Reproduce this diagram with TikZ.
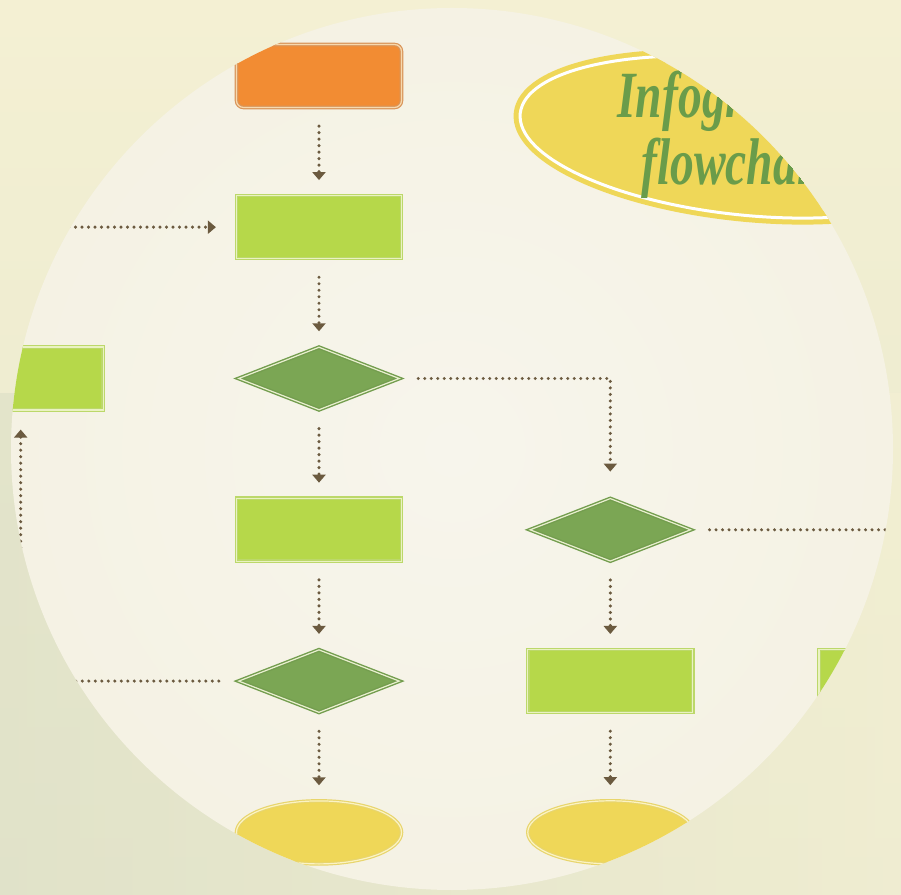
\documentclass[tikz,border=0pt]{standalone}
\usepackage{fontspec}
\usepackage{tikz}
\usetikzlibrary{arrows.meta,positioning,shapes.geometric}
\newfontfamily\titlefont{Liberation Serif}

\definecolor{bgyellow}{HTML}{F4F0D3}
\definecolor{bggreen}{HTML}{DCDFC6}
\definecolor{bgmid}{HTML}{E8E8CE}
\definecolor{discin}{HTML}{F7F5EC}
\definecolor{disc}{HTML}{F5F2E4}
\definecolor{orangefill}{HTML}{F28C33}
\definecolor{orangeedge}{HTML}{D9955A}
\definecolor{orangeline}{HTML}{F7D9AE}
\definecolor{limefill}{HTML}{B6D84A}
\definecolor{limeedge}{HTML}{BCD86A}
\definecolor{limeline}{HTML}{EAF2C2}
\definecolor{leaffill}{HTML}{7BA654}
\definecolor{leafedge}{HTML}{739D4E}
\definecolor{leafline}{HTML}{E9EFCF}
\definecolor{sunfill}{HTML}{EFD758}
\definecolor{sunedge}{HTML}{E8D56C}
\definecolor{sunline}{HTML}{FBF3C4}
\definecolor{arrowbrown}{HTML}{6B5A3F}
\definecolor{titlegreen}{HTML}{6A9C4A}

\begin{document}
\begin{tikzpicture}[
    x=1pt, y=1pt,
    node distance=87pt and 127pt,
    startbox/.style={rectangle, rounded corners=7pt, minimum width=165pt, minimum height=63pt,
      fill=orangefill, draw=orangeedge, double=orangeline, double distance=1.2pt, line width=1.2pt},
    procbox/.style={rectangle, minimum width=165pt, minimum height=63pt,
      fill=limefill, draw=limeedge, double=limeline, double distance=1.2pt, line width=1.2pt},
    decision/.style={diamond, minimum width=161pt, minimum height=63pt, inner sep=0pt,
      fill=leaffill, draw=leafedge, double=leafline, double distance=1.2pt, line width=1.4pt},
    endbox/.style={ellipse, minimum width=165pt, minimum height=63pt,
      fill=sunfill, draw=sunedge, double=sunline, double distance=1.2pt, line width=1.2pt},
    titleoval/.style={ellipse, minimum width=452pt, minimum height=156pt,
      fill=sunfill, draw=sunfill, double=white, double distance=3pt, line width=5pt},
    titletext/.style={align=center, text=titlegreen, xscale=0.72,
      font=\titlefont\fontsize{66}{67}\selectfont\bfseries\itshape},
    flow/.style={arrowbrown, line width=3.4pt, line cap=round, dash pattern=on 0pt off 6.5pt,
      shorten <=18pt, shorten >=15pt, -{Triangle[width=13pt,length=8pt]}}]
  % backdrop
  \shade[top color=bgyellow, bottom color=bgmid] (0,0) rectangle (901,894);
  \shade[left color=bggreen, right color=bgyellow, opacity=0.6] (0,0) rectangle (901,500);
  \begin{scope}
    \clip (452,445) circle (441);
    \shade[inner color=discin, outer color=disc] (452,445) circle (441);
    % title
    \node[titleoval, rotate=-6] (title) at (745,757) {};
    \node[titletext] (titletxt) at (735,759) {Infographic\\flowchart};
    % main column
    \node[startbox] (start) at (319,818) {};
    \node[procbox, below=of start] (proc1) {};
    \node[decision, below=of proc1] (dec1) {};
    \node[procbox, below=of dec1] (proc2) {};
    \node[decision, below=of proc2] (dec3) {};
    \node[endbox, below=of dec3] (end1) {};
    % side branches
    \node[procbox, left=134pt of dec1] (leftbox) {};
    \node[decision, right=of proc2] (dec2) {};
    \node[procbox, below=of dec2] (proc3) {};
    \node[endbox, below=of proc3] (end2) {};
    \node[procbox, right=125pt of proc3] (farbox) {};
    % connectors
    \draw[flow] (start) -- (proc1);
    \draw[flow] (proc1) -- (dec1);
    \draw[flow] (dec1) -- (proc2);
    \draw[flow] (proc2) -- (dec3);
    \draw[flow] (dec3) -- (end1);
    \draw[flow, shorten >=20pt] (leftbox.north) |- (proc1.west);
    \draw[flow, shorten >=26pt] (dec1.east) -| (dec2.north);
    \draw[flow, shorten <=19pt, shorten >=19pt] (dec3.west) -| (leftbox.south);
    \draw[flow] (dec2.east) -| (farbox.north);
    \draw[flow] (dec2) -- (proc3);
    \draw[flow] (proc3) -- (end2);
  \end{scope}
\end{tikzpicture}
\end{document}
